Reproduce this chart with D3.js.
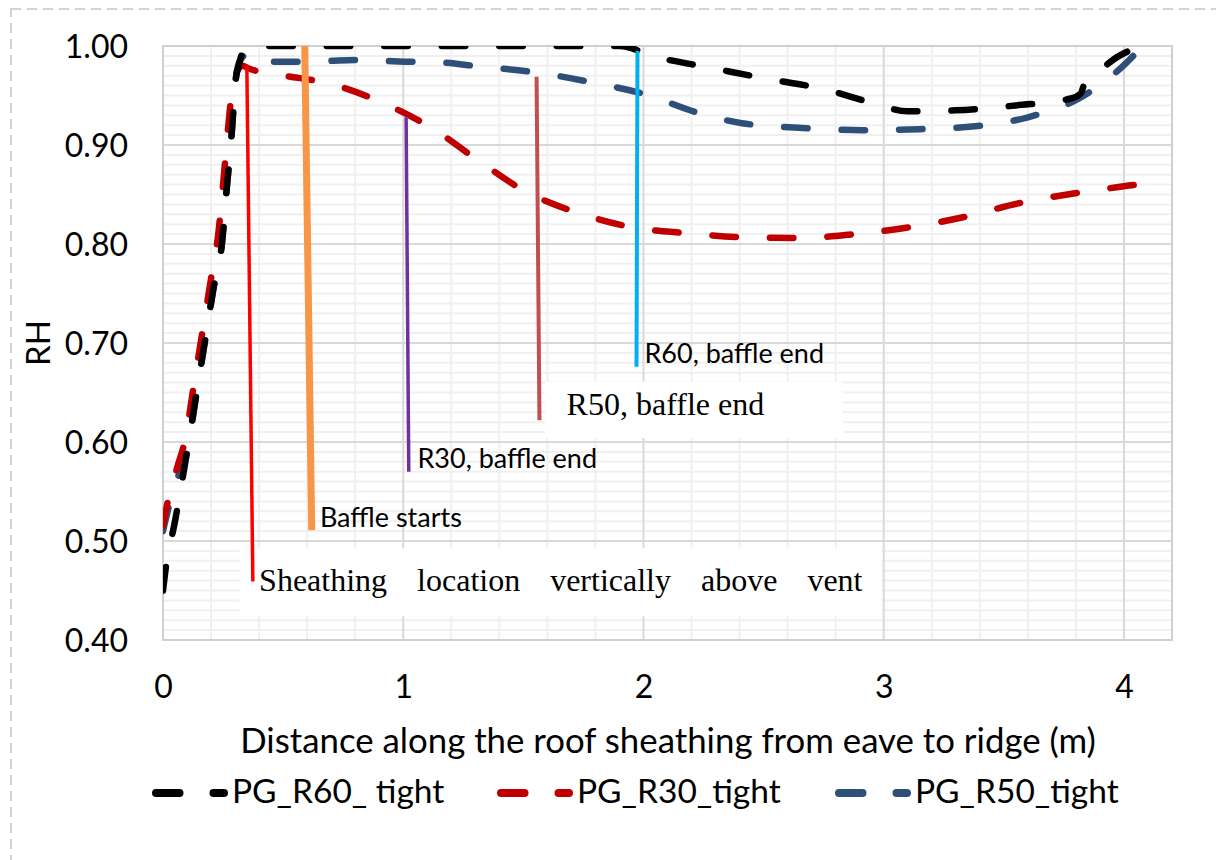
<!DOCTYPE html>
<html>
<head>
<meta charset="utf-8">
<script src="https://cdn.jsdelivr.net/npm/d3@7"></script>
<style>
  html, body { margin: 0; padding: 0; background: #fff; }
  svg { display: block; }
  text { font-family: Lato, "Open Sans", sans-serif; fill: #000; }
  .serif { font-family: "Liberation Serif", "DejaVu Serif", serif; }
</style>
</head>
<body>
<div id="chart"></div>
<script>
// ----------------------------------------
// DATA
// ----------------------------------------
const distR60 = [0, 0.01, 0.05, 0.10, 0.14, 0.18, 0.21, 0.245, 0.266, 0.287, 0.30, 0.32, 0.35, 1.0, 1.9,
  2.05, 2.28, 2.51, 2.74, 2.96, 3.10, 3.30, 3.55, 3.78, 3.82, 3.84, 3.87, 3.98, 4.07];
const rhR60 = [0.45, 0.47, 0.52, 0.59, 0.65, 0.71, 0.755, 0.80, 0.858, 0.915, 0.96, 0.985, 1.0, 1.0, 1.0,
  0.989, 0.978, 0.967, 0.957, 0.942, 0.934, 0.935, 0.940, 0.947, 0.952, 0.965, 0.970, 0.990, 1.0];

const distR30 = [0, 0.02, 0.06, 0.09, 0.13, 0.17, 0.20, 0.23, 0.25, 0.27, 0.29, 0.31, 0.33, 0.36, 0.48,
  0.71, 0.92, 1.12, 1.32, 1.51, 1.72, 1.95, 2.18, 2.40, 2.65, 2.88, 3.11, 3.33, 3.56, 3.79, 4.02, 4.08];
const rhR30 = [0.515, 0.54, 0.575, 0.60, 0.66, 0.72, 0.765, 0.81, 0.86, 0.915, 0.96, 0.975, 0.98, 0.977, 0.971,
  0.961, 0.942, 0.917, 0.883, 0.853, 0.832, 0.817, 0.811, 0.807, 0.806, 0.810, 0.817, 0.827, 0.841, 0.851, 0.859, 0.861];

const distR50 = [0, 0.03, 0.07, 0.10, 0.14, 0.18, 0.21, 0.245, 0.266, 0.287, 0.30, 0.32, 0.36, 0.45, 0.57,
  0.69, 0.81, 0.92, 1.04, 1.10, 1.33, 1.56, 1.79, 2.01, 2.22, 2.41, 2.68, 2.91, 3.15, 3.38, 3.60, 3.82, 4.01, 4.07];
const rhR50 = [0.51, 0.54, 0.57, 0.59, 0.65, 0.71, 0.755, 0.80, 0.858, 0.915, 0.96, 0.985, 0.993, 0.984, 0.984,
  0.985, 0.986, 0.985, 0.984, 0.984, 0.979, 0.973, 0.963, 0.951, 0.933, 0.922, 0.917, 0.915, 0.916, 0.919, 0.928, 0.948, 0.983, 0.998];

const seriesNames = ["PG_R60_ tight", "PG_R30_tight", "PG_R50_tight"];
const seriesColors = ["#000000", "#c00000", "#2e5078"];

const xTicks = [0, 1, 2, 3, 4];
const yTicks = [0.4, 0.5, 0.6, 0.7, 0.8, 0.9, 1.0];

// annotation markers drawn on the chart (data units)
const markLabels = ["Sheathing location vertically above vent", "Baffle starts", "R30, baffle end", "R50, baffle end", "R60, baffle end"];
const markX0 = [0.349, 0.590, 1.012, 1.555, 1.975];
const markY0 = [0.980, 1.000, 0.928, 0.969, 0.995];
const markX1 = [0.374, 0.619, 1.023, 1.567, 1.971];
const markY1 = [0.459, 0.511, 0.570, 0.622, 0.676];
const markColors = ["#ff0000", "#f79646", "#7030a0", "#c0504d", "#00b0f0"];

// ----------------------------------------
// SETUP
// ----------------------------------------
const width = 1216, height = 860;
const plot = { left: 163, right: 1172, top: 46, bottom: 640 };

const svg = d3.select("#chart").append("svg")
  .attr("width", width)
  .attr("height", height);

// dashed outer frame
svg.append("rect")
  .attr("x", 11).attr("y", 9)
  .attr("width", 1300).attr("height", 1000)
  .attr("fill", "none")
  .attr("stroke", "#d4d4d4")
  .attr("stroke-width", 2)
  .attr("stroke-dasharray", "10,6");

const x = d3.scaleLinear().domain([0, 4.2]).range([plot.left, plot.right]);
const y = d3.scaleLinear().domain([0.4, 1.0]).range([plot.bottom, plot.top]);

svg.append("clipPath").attr("id", "plot-clip")
  .append("rect")
  .attr("x", plot.left).attr("y", plot.top)
  .attr("width", plot.right - plot.left).attr("height", plot.bottom - plot.top);

// ----------------------------------------
// GRID
// ----------------------------------------
const grid = svg.append("g");

grid.selectAll(".minor-h")
  .data(d3.range(41, 100).filter(v => v % 10 !== 0).map(v => v / 100))
  .join("line")
  .attr("x1", plot.left).attr("x2", plot.right)
  .attr("y1", d => y(d)).attr("y2", d => y(d))
  .attr("stroke", "#f0f0f0").attr("stroke-width", 2);

grid.selectAll(".minor-v")
  .data(d3.range(1, 21).filter(v => v % 5 !== 0).map(v => v / 5))
  .join("line")
  .attr("x1", d => x(d)).attr("x2", d => x(d))
  .attr("y1", plot.top).attr("y2", plot.bottom)
  .attr("stroke", "#f0f0f0").attr("stroke-width", 2);

grid.selectAll(".major-h")
  .data(yTicks)
  .join("line")
  .attr("x1", plot.left).attr("x2", plot.right)
  .attr("y1", d => y(d)).attr("y2", d => y(d))
  .attr("stroke", "#d9d9d9").attr("stroke-width", 2);

grid.selectAll(".major-v")
  .data(xTicks)
  .join("line")
  .attr("x1", d => x(d)).attr("x2", d => x(d))
  .attr("y1", plot.top).attr("y2", plot.bottom)
  .attr("stroke", "#d9d9d9").attr("stroke-width", 2);

grid.append("rect")
  .attr("x", plot.left).attr("y", plot.top)
  .attr("width", plot.right - plot.left).attr("height", plot.bottom - plot.top)
  .attr("fill", "none").attr("stroke", "#d0d0d0").attr("stroke-width", 2);

// ----------------------------------------
// AXES LABELS
// ----------------------------------------
const yAxis = svg.append("g")
  .attr("transform", `translate(${plot.left - 35},0)`)
  .call(d3.axisLeft(y).tickValues(yTicks).tickFormat(d3.format(".2f")).tickSize(0).tickPadding(0));
yAxis.select(".domain").remove();
yAxis.selectAll("text")
  .attr("fill", "#000")
  .style("font-family", "Lato")
  .style("font-size", "32px")
  .attr("dy", "0.36em");

const xAxis = svg.append("g")
  .attr("transform", `translate(0,${plot.bottom})`)
  .call(d3.axisBottom(x).tickValues(xTicks).tickFormat(d3.format("d")).tickSize(0).tickPadding(0));
xAxis.select(".domain").remove();
xAxis.selectAll("text")
  .attr("fill", "#000")
  .style("font-family", "Lato")
  .style("font-size", "32px")
  .attr("y", 58)
  .attr("dy", 0);

svg.append("text")
  .attr("x", 668).attr("y", 753)
  .attr("text-anchor", "middle")
  .style("font-size", "34.8px")
  .text("Distance along the roof sheathing from eave to ridge (m)");

svg.append("text")
  .attr("transform", "translate(50,343) rotate(-90)")
  .attr("text-anchor", "middle")
  .style("font-size", "33px")
  .text("RH");

// ----------------------------------------
// SERIES
// ----------------------------------------
const line = d3.line()
  .x(d => x(d[0]))
  .y(d => y(d[1]))
  .curve(d3.curveMonotoneX);

const seriesData = [
  d3.zip(distR60, rhR60),
  d3.zip(distR30, rhR30),
  d3.zip(distR50, rhR50)
];

const gSeries = svg.append("g").attr("clip-path", "url(#plot-clip)");
// draw order: R50 under, R30, R60 on top for the rising part
[2, 1, 0].forEach(i => {
  gSeries.append("path")
    .datum(seriesData[i])
    .attr("fill", "none")
    .attr("stroke", seriesColors[i])
    .attr("stroke-width", 6.5)
    .attr("stroke-linecap", "round")
    .attr("stroke-dasharray", "23.5,34")
    .attr("d", line);
});

// ----------------------------------------
// ANNOTATIONS
// ----------------------------------------
const ann = svg.append("g");

// white label boxes
ann.append("rect")
  .attr("x", x(0.32)).attr("y", y(0.493))
  .attr("width", x(2.99) - x(0.32)).attr("height", y(0.424) - y(0.493))
  .attr("fill", "#fff");
ann.append("rect")
  .attr("x", x(1.59)).attr("y", y(0.661))
  .attr("width", x(2.83) - x(1.59)).attr("height", y(0.604) - y(0.661))
  .attr("fill", "#fff");

const markWidths = [3.5, 7, 3.5, 4, 4];
markLabels.forEach((lab, i) => {
  ann.append("line")
    .attr("x1", x(markX0[i])).attr("y1", y(markY0[i]))
    .attr("x2", x(markX1[i])).attr("y2", y(markY1[i]))
    .attr("stroke", markColors[i])
    .attr("stroke-width", markWidths[i]);
});

// label texts
ann.append("text")
  .attr("class", "serif")
  .attr("x", x(0.40)).attr("y", y(0.45))
  .style("font-size", "32px")
  .style("word-spacing", "22px")
  .text(markLabels[0]);

ann.append("text")
  .attr("x", x(0.653)).attr("y", y(0.514))
  .style("font-size", "27px")
  .text(markLabels[1]);

ann.append("text")
  .attr("x", x(1.059)).attr("y", y(0.574))
  .style("font-size", "27px")
  .text(markLabels[2]);

ann.append("text")
  .attr("class", "serif")
  .attr("x", x(1.680)).attr("y", y(0.627))
  .style("font-size", "32px")
  .text(markLabels[3]);

ann.append("text")
  .attr("x", x(2.004)).attr("y", y(0.680))
  .style("font-size", "27px")
  .text(markLabels[4]);

// ----------------------------------------
// LEGEND
// ----------------------------------------
const legendX = [232, 577, 915];
const legend = svg.append("g").attr("transform", "translate(0,803)");

seriesNames.forEach((name, i) => {
  legend.append("line")
    .attr("x1", legendX[i] - 76).attr("x2", legendX[i] - 8)
    .attr("y1", -10).attr("y2", -10)
    .attr("stroke", seriesColors[i])
    .attr("stroke-width", 8)
    .attr("stroke-linecap", "round")
    .attr("stroke-dasharray", "23.5,34");
  legend.append("text")
    .attr("x", legendX[i]).attr("y", 0)
    .style("font-size", "33.5px")
    .text(name);
});
</script>
</body>
</html>
